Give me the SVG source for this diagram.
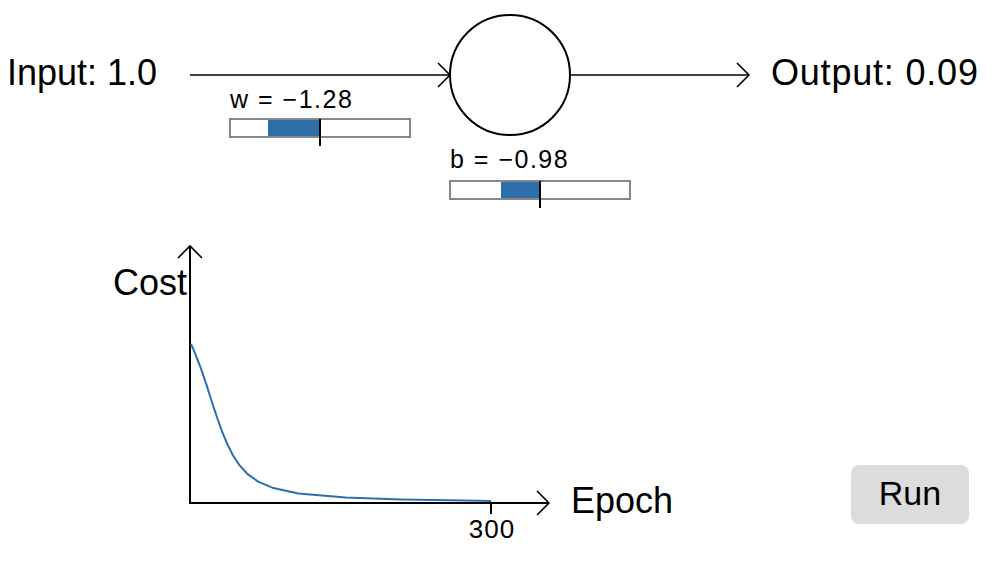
<svg xmlns="http://www.w3.org/2000/svg" width="1008" height="564" viewBox="0 0 1008 564">
  <style>
    text { font-family: "Liberation Sans", Arial, sans-serif; fill: #000; }
    .big { font-size: 36px; }
    .small { font-size: 25px; letter-spacing: 1.5px; }
    .line { stroke: #000; stroke-width: 1.6; fill: none; }
    .axis { stroke: #000; stroke-width: 2; fill: none; }
    .track { fill: #fff; stroke: #888; stroke-width: 2; }
    .bar { fill: #2e6fab; }
    .tick { stroke: #000; stroke-width: 2; }
    .curve { fill: none; stroke: #2e6fab; stroke-width: 2; }
  </style>
  <defs>
    <marker id="chev" markerUnits="userSpaceOnUse" markerWidth="30" markerHeight="30" refX="15" refY="15" orient="auto" viewBox="0 0 30 30">
      <path d="M3,3 L15,15 L3,27" fill="none" stroke="#000" stroke-width="1.6"/>
    </marker>
  </defs>
  <rect width="1008" height="564" fill="#fff"/>

  <g id="connectors">
    <line class="line" x1="190" y1="75" x2="450" y2="75" marker-end="url(#chev)"/>
    <line class="line" x1="570" y1="75" x2="749" y2="75" marker-end="url(#chev)"/>
  </g>

  <g id="input-label">
    <text class="big" x="7" y="85">Input: 1.0</text>
  </g>

  <g id="neuron">
    <circle cx="510" cy="75" r="60" fill="#fff" stroke="#000" stroke-width="2"/>
  </g>

  <g id="output-label">
    <text class="big" x="771" y="85" letter-spacing="0.8">Output: 0.09</text>
  </g>

  <g id="w-slider">
    <text class="small" x="230" y="108">w = −1.28</text>
    <rect class="track" x="230" y="119" width="180" height="18"/>
    <rect class="bar" x="268" y="120" width="52" height="16"/>
    <line class="tick" x1="320" y1="119" x2="320" y2="146"/>
  </g>

  <g id="b-slider">
    <text class="small" x="450" y="168">b = −0.98</text>
    <rect class="track" x="450" y="181" width="180" height="18"/>
    <rect class="bar" x="501" y="182" width="39" height="16"/>
    <line class="tick" x1="540" y1="181" x2="540" y2="208"/>
  </g>

  <g id="chart">
    <line class="axis" x1="190" y1="504" x2="190" y2="246" marker-end="url(#chev)"/>
    <line class="axis" x1="189" y1="503" x2="549" y2="503" marker-end="url(#chev)"/>
    <polyline class="curve" points="191,344 194,350.7 201.2,369.1 207,386.4 212.1,402.5 217,417.3 221.8,431 227,443.5 232.6,454.8 239.2,464.9 247.4,473.9 258.1,481.6 273.5,488.1 298.3,493.5 345.6,497.6 401.1,499.6 465.2,500.6 491,500.9"/>
    <line class="tick" x1="491" y1="503" x2="491" y2="514"/>
    <text x="492" y="538" font-size="26" letter-spacing="1" text-anchor="middle">300</text>
    <text class="big" x="187" y="295" text-anchor="end">Cost</text>
    <text class="big" x="571" y="513">Epoch</text>
  </g>

  <g id="run-button">
    <rect x="851" y="465" width="118" height="59" rx="8" fill="#dcdcdc"/>
    <text x="910" y="505" font-size="34" text-anchor="middle">Run</text>
  </g>
</svg>
